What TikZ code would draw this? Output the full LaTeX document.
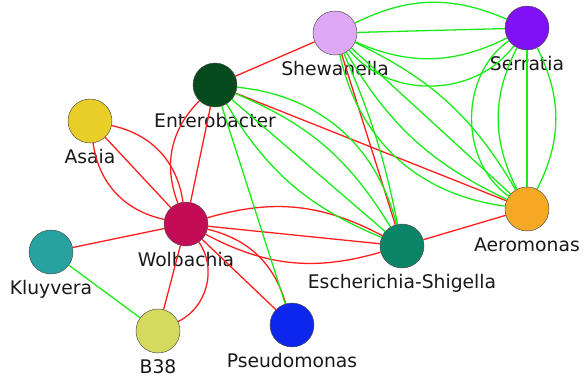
\documentclass[tikz,border=0pt]{standalone}
\usepackage{fontspec}
\setmainfont{DejaVu Sans}
\usepackage{tikz}
\definecolor{shewcol}{RGB}{222,168,246}
\definecolor{serrcol}{RGB}{128,16,245}
\definecolor{entcol}{RGB}{5,75,30}
\definecolor{asaiacol}{RGB}{232,206,38}
\definecolor{wolcol}{RGB}{194,12,86}
\definecolor{kluycol}{RGB}{40,162,160}
\definecolor{bcol}{RGB}{212,218,94}
\definecolor{pseucol}{RGB}{12,38,236}
\definecolor{eschcol}{RGB}{12,132,104}
\definecolor{aerocol}{RGB}{244,168,36}
\definecolor{linered}{RGB}{255,28,28}
\definecolor{linegreen}{RGB}{25,235,25}
\tikzstyle{vertex}=[circle,draw=black!70,minimum size=1.32cm,inner sep=0pt]
\tikzstyle{lbl}=[anchor=base,text=black!90,font=\fontsize{16}{19}\selectfont]
\tikzstyle{redge} = [draw=linered,line width=1.1pt]
\tikzstyle{gedge} = [draw=linegreen,line width=1.1pt]

\begin{document}
\begin{tikzpicture}[x=0.03cm,y=-0.03cm,label distance=0.6cm]
          \useasboundingbox (0,0) rectangle (584,378);
          \node[vertex,fill=shewcol,label={[lbl]below:Shewanella}] (shew) at (335,33) {};
          \node[vertex,fill=serrcol,label={[lbl]below:Serratia}] (serr) at (527,28) {};
          \node[vertex,fill=entcol,label={[lbl]below:Enterobacter}] (ent) at (215,85) {};
          \node[vertex,fill=asaiacol,label={[lbl]below:Asaia}] (asaia) at (90,121) {};
          \node[vertex,fill=wolcol,label={[lbl]below:Wolbachia}] (wol) at (186,224) {};
          \node[vertex,fill=kluycol,label={[lbl]below:Kluyvera}] (kluy) at (51,252) {};
          \node[vertex,fill=bcol,label={[lbl]below:B38}] (b38) at (158,331) {};
          \node[vertex,fill=pseucol,label={[lbl]below:Pseudomonas}] (pseu) at (292,325) {};
          \node[vertex,fill=eschcol,label={[lbl]below:Escherichia-Shigella}] (esch) at (402,246) {};
          \node[vertex,fill=aerocol,label={[lbl]below:Aeromonas}] (aero) at (527,209) {};
          % negative links
          \draw[redge] (ent) to (shew);
          \draw[redge] (ent) to (aero);
          \draw[redge] (shew) to (esch);
          \draw[redge] (esch) to (aero);
          \draw[redge] (ent) to (wol);
          \draw[redge] (ent) to[bend right=33] (wol);
          \draw[redge] (asaia) to (wol);
          \draw[redge] (asaia) to[bend left=35] (wol);
          \draw[redge] (asaia) to[bend right=35] (wol);
          \draw[redge] (wol) to (kluy);
          \draw[redge] (wol) to (b38);
          \draw[redge] (wol) to[bend left=50] (b38);
          \draw[redge] (wol) to (pseu);
          \draw[redge] (wol) to[bend left=30] (pseu);
          \draw[redge] (wol) to (esch);
          \draw[redge] (wol) to[bend left=22] (esch);
          \draw[redge] (wol) to[bend right=22] (esch);
          % positive links
          \draw[gedge] (kluy) to (b38);
          \draw[gedge] (ent) to (pseu);
          \draw[gedge] (ent) to (esch);
          \draw[gedge] (ent) to[bend left=18] (esch);
          \draw[gedge] (ent) to[bend right=18] (esch);
          \draw[gedge] (ent) to[bend left=35] (esch);
          \draw[gedge] (shew) to[bend left=6] (esch);
          \draw[gedge] (shew) to (serr);
          \draw[gedge] (shew) to[bend left=25] (serr);
          \draw[gedge] (shew) to[bend right=25] (serr);
          \draw[gedge] (shew) to[bend right=52] (serr);
          \draw[gedge] (shew) to (aero);
          \draw[gedge] (shew) to[bend left=17] (aero);
          \draw[gedge] (shew) to[bend right=17] (aero);
          \draw[gedge] (shew) to[bend right=35] (aero);
          \draw[gedge] (serr) to (aero);
          \draw[gedge] (serr) to[bend left=27] (aero);
          \draw[gedge] (serr) to[bend right=27] (aero);
          \draw[gedge] (serr) to[bend right=55] (aero);
        \end{tikzpicture}
\end{document}
